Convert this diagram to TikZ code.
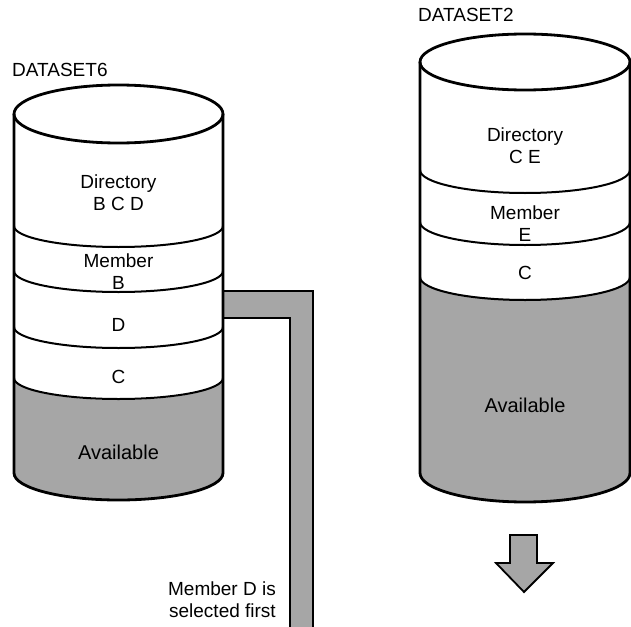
\documentclass[tikz,border=0pt]{standalone}
\usepackage{fontspec}
\setmainfont{Liberation Sans}
\usepackage{tikz}
\usetikzlibrary{positioning}
\tikzset{
  txt/.style={font=\fontsize{19}{22}\selectfont, inner sep=0pt, align=center},
  big/.style={font=\fontsize{20}{22}\selectfont},
  wall/.style={draw=black, line width=2.8pt, line join=round},
  band/.style={draw=black, line width=2pt},
  avail/.style={fill=gray!70},
  pipe/.style={draw=black, line width=2.6pt, line join=miter}
}

\begin{document}
\begin{tikzpicture}[x=1pt, y=-1pt]
    \useasboundingbox (0,0) rectangle (631,626);
    % pipe out of DATASET6
    \fill[avail] (223,291) -- (313,291) -- (313,630) -- (290,630) -- (290,318) -- (223,318) -- cycle;
    \draw[pipe] (222,291) -- (313,291) -- (313,630);
    \draw[pipe] (222,318) -- (290,318) -- (290,630);
    % DATASET6 cylinder
    \fill[avail] (14,378) arc[start angle=180, end angle=0, x radius=104.5, y radius=22]
        -- (223,473) arc[start angle=0, end angle=180, x radius=104.5, y radius=27] -- cycle;
    \foreach \y in {226,271,327,378}
        \draw[band] (14,\y) arc[start angle=180, end angle=0, x radius=104.5, y radius=21];
    \draw[wall] (14,114) -- (14,473) arc[start angle=180, end angle=0, x radius=104.5, y radius=27] -- (223,114);
    \draw[wall] (118.5,114) ellipse[x radius=104.5, y radius=29];
    % DATASET2 cylinder
    \fill[avail] (420,277) arc[start angle=180, end angle=0, x radius=105, y radius=22]
        -- (630,473) arc[start angle=0, end angle=180, x radius=105, y radius=29] -- cycle;
    \foreach \y in {170,222,277}
        \draw[band] (420,\y) arc[start angle=180, end angle=0, x radius=105, y radius=23];
    \draw[wall] (420,62) -- (420,473) arc[start angle=180, end angle=0, x radius=105, y radius=29] -- (630,62);
    \draw[wall] (525,62) ellipse[x radius=105, y radius=28];
    % arrow
    \draw[avail, line width=1.8pt, line join=miter] (510,535) -- (537,535) -- (537,563) -- (553,563)
        -- (524,592) -- (496,563) -- (510,563) -- cycle;
    % nodes
    \node[txt, anchor=west] (dsSix) at (12,70) {DATASET6};
    \node[txt] (dirSix)   at (118.5,193) {Directory\\B C D};
    \node[txt] (memB)     at (118.5,272) {Member\\B};
    \node[txt] (secD)     at (118.5,325) {D};
    \node[txt] (secC)     at (118.5,377) {C};
    \node[txt, big] (availSix) at (118.5,452) {Available};
    \node[txt, anchor=west] (dsTwo) at (418,15) {DATASET2};
    \node[txt] (dirTwo)   at (525,146) {Directory\\C E};
    \node[txt] (memE)     at (525,224) {Member\\E};
    \node[txt] (secCTwo)  at (525,273) {C};
    \node[txt, big] (availTwo) at (525,405) {Available};
    \node[txt, align=right, anchor=east] (pick) at (276,600) {Member D is\\selected first};
\end{tikzpicture}
\end{document}
